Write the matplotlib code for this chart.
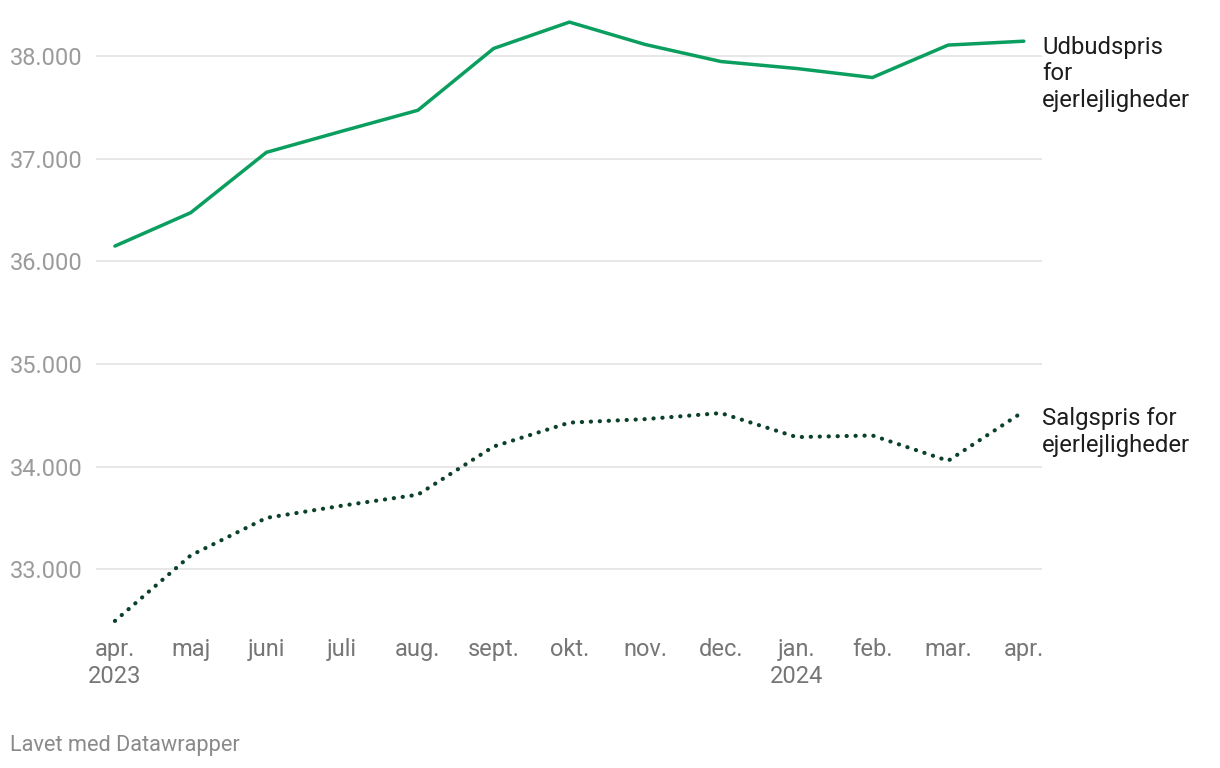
import matplotlib.pyplot as plt

plt.rcParams['font.family'] = ['Roboto', 'DejaVu Sans']

months = ['apr.', 'maj', 'juni', 'juli', 'aug.', 'sept.', 'okt.', 'nov.', 'dec.', 'jan.', 'feb.', 'mar.', 'apr.']
years = {0: '2023', 9: '2024'}

# kr. pr. m2
udbud = [36150, 36475, 37063, 37270, 37473, 38075, 38332, 38114, 37948, 37880, 37792, 38108, 38146]
salg = [32498, 33136, 33502, 33621, 33728, 34197, 34430, 34464, 34523, 34289, 34305, 34058, 34540]

yticks = [33000, 34000, 35000, 36000, 37000, 38000]

fig = plt.figure(figsize=(12.2, 7.68), dpi=100)
# akse fra x=96 til 1042 px
ax = fig.add_axes([96 / 1220, 0.1784, 946 / 1220, 0.8086])

x = list(range(len(months)))
green = '#0a9e5f'
dark = '#0b4029'

ax.plot(x, udbud, color=green, lw=2.5, solid_capstyle='round', solid_joinstyle='round', zorder=3)
ax.plot(x, salg, color=dark, lw=3.0, linestyle=(0, (0.05, 2.1)), dash_capstyle='round', zorder=3)

ax.set_xlim(-0.25, 12.24)
ax.set_ylim(32400, 38450)

ax.set_yticks(yticks)
ax.set_yticklabels([f'{v:,}'.replace(',', '.') for v in yticks])
ax.yaxis.grid(True, color='#e3e3e3', lw=1.2)
ax.set_axisbelow(True)
ax.tick_params(axis='y', length=0, pad=9.5, labelsize=17, labelcolor='#9b9b9b')

ax.set_xticks(x)
ax.set_xticklabels([m + ('\n' + years[i] if i in years else '') for i, m in enumerate(months)],
                   linespacing=1.25)
ax.tick_params(axis='x', length=0, pad=5, labelsize=17, labelcolor='#767676')

for s in ax.spines.values():
    s.set_visible(False)

# linjeetiketter
ax.annotate('Udbudspris\nfor\nejerlejligheder', xy=(x[-1], udbud[-1]), xytext=(13, 4),
            textcoords='offset points', ha='left', va='top', fontsize=17.2, color='#1d1d1d',
            linespacing=1.2, annotation_clip=False)
ax.annotate('Salgspris for\nejerlejligheder', xy=(x[-1], salg[-1]), xytext=(13, 3),
            textcoords='offset points', ha='left', va='top', fontsize=17.2, color='#1d1d1d',
            linespacing=1.2, annotation_clip=False)

fig.text(10 / 1220, 1 - 745 / 768, 'Lavet med Datawrapper', ha='left', va='center',
         fontsize=15.7, color='#8a8a8a')

fig.savefig('out.png', dpi=100)
